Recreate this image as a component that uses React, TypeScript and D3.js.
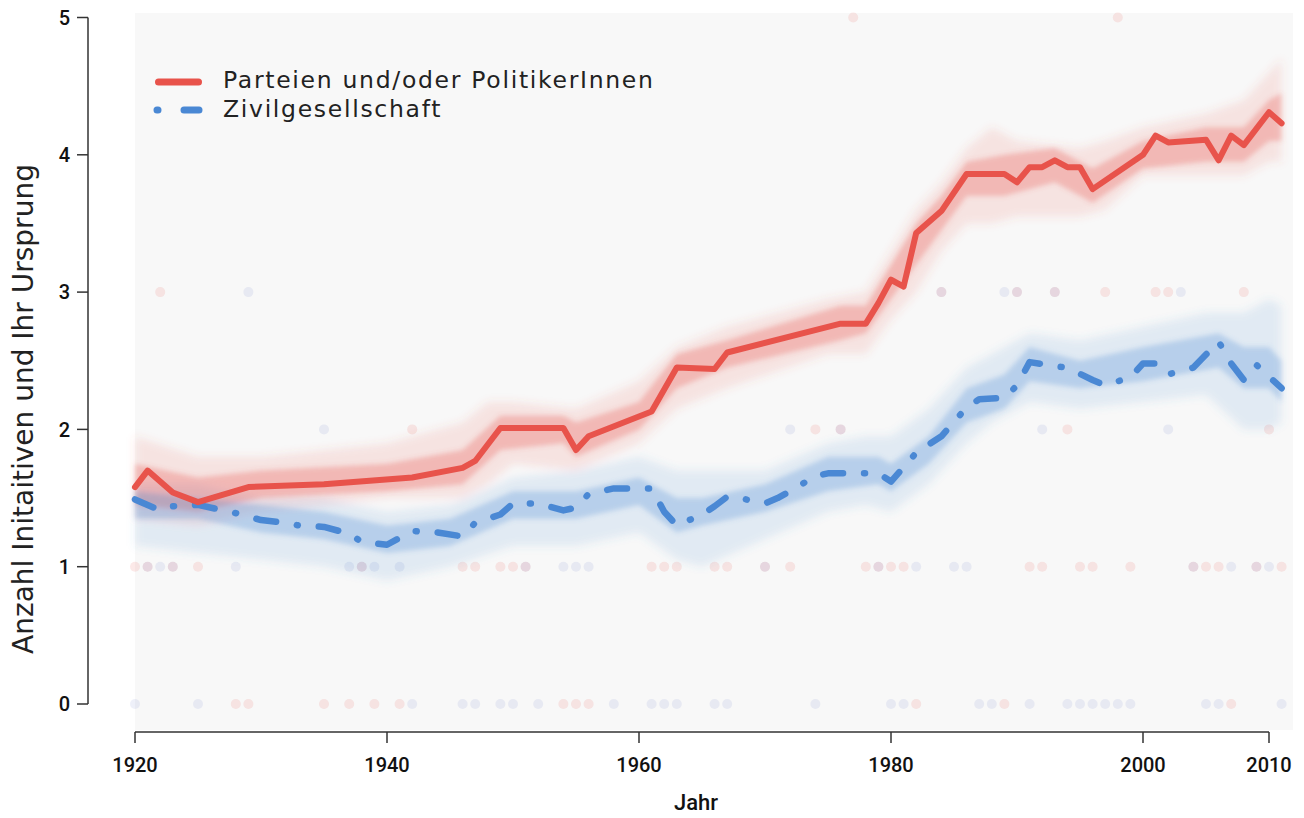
import React from 'react';
import * as d3 from 'd3';

const W = 1304;
const H = 818;

// Main estimate: Parteien und/oder PolitikerInnen
const redYears = [1920,1921,1923,1925,1929,1935,1942,1946,1947,1949,1954,1955,1956,1961,1963,1966,1967,1976,1978,1979,1980,1981,1982,1984,1986,1989,1990,1991,1992,1993,1994,1995,1996,2000,2001,2002,2005,2006,2007,2008,2010,2011];
const redValues = [1.58,1.70,1.54,1.47,1.58,1.60,1.65,1.72,1.77,2.01,2.01,1.85,1.95,2.13,2.45,2.44,2.56,2.77,2.77,2.92,3.09,3.04,3.43,3.59,3.86,3.86,3.80,3.91,3.91,3.96,3.91,3.91,3.75,4.00,4.14,4.09,4.11,3.96,4.14,4.07,4.31,4.23];

// Main estimate: Zivilgesellschaft
const blueYears = [1920,1921,1922,1923,1925,1928,1930,1932,1933,1935,1937,1938,1940,1941,1942,1944,1946,1947,1949,1950,1952,1954,1955,1956,1958,1961,1962,1963,1965,1966,1967,1968,1970,1971,1972,1974,1975,1979,1980,1982,1984,1986,1987,1989,1990,1991,1993,1994,1996,1997,1999,2000,2001,2002,2004,2006,2007,2008,2009,2011];
const blueValues = [1.49,1.45,1.41,1.44,1.45,1.39,1.34,1.32,1.30,1.29,1.24,1.18,1.16,1.21,1.26,1.25,1.22,1.32,1.38,1.46,1.46,1.41,1.43,1.53,1.57,1.57,1.40,1.30,1.38,1.44,1.51,1.50,1.46,1.50,1.55,1.66,1.68,1.68,1.62,1.83,1.95,2.16,2.22,2.23,2.32,2.49,2.46,2.45,2.36,2.32,2.38,2.48,2.48,2.40,2.45,2.64,2.48,2.36,2.47,2.30];

// Spread of the simulated lines (outer = faint, inner = dense)
const redOuterYears = [1920,1925,1930,1940,1946,1948,1950,1955,1960,1963,1967,1975,1978,1980,1982,1984,1986,1988,1990,1995,1997,2000,2005,2008,2010,2011];
const redOuterLo = [1.35,1.3,1.4,1.5,1.5,1.6,1.75,1.7,1.9,2.15,2.3,2.55,2.55,2.8,3.0,3.3,3.5,3.5,3.55,3.55,3.6,3.85,3.85,3.85,3.95,3.95];
const redOuterHi = [1.95,1.8,1.8,1.9,2.05,2.2,2.2,2.15,2.35,2.6,2.75,2.95,3.0,3.3,3.6,3.8,4.05,4.2,4.1,4.05,4.1,4.2,4.3,4.4,4.6,4.7];
const redInnerYears = [1920,1925,1930,1940,1946,1949,1954,1955,1960,1963,1967,1976,1978,1980,1982,1984,1986,1989,1993,1996,2000,2005,2008,2010,2011];
const redInnerLo = [1.45,1.4,1.5,1.55,1.6,1.85,1.9,1.8,2.0,2.3,2.45,2.65,2.7,2.95,3.2,3.45,3.7,3.7,3.8,3.65,3.9,3.95,3.95,4.1,4.1];
const redInnerHi = [1.75,1.65,1.7,1.75,1.85,2.1,2.1,2.05,2.2,2.55,2.65,2.9,2.9,3.2,3.5,3.7,3.95,4.0,4.05,3.9,4.1,4.2,4.2,4.4,4.45];

const blueOuterYears = [1920,1925,1930,1935,1940,1945,1950,1955,1960,1963,1965,1970,1975,1978,1980,1983,1986,1988,1991,1995,2000,2005,2008,2010,2011];
const blueOuterLo = [1.15,1.1,1.05,1.0,0.9,1.0,1.15,1.15,1.25,1.05,1.0,1.2,1.4,1.45,1.4,1.6,1.9,2.05,2.2,2.15,2.2,2.25,2.0,2.0,2.05];
const blueOuterHi = [1.6,1.6,1.5,1.5,1.4,1.45,1.65,1.7,1.8,1.7,1.7,1.7,1.9,1.95,1.95,2.15,2.45,2.55,2.7,2.65,2.75,2.85,2.85,2.95,2.9];
const blueInnerYears = [1920,1925,1930,1935,1940,1945,1950,1955,1960,1963,1965,1970,1975,1979,1980,1983,1986,1989,1991,1995,2000,2006,2008,2010,2011];
const blueInnerLo = [1.35,1.35,1.25,1.2,1.1,1.15,1.35,1.35,1.45,1.25,1.3,1.4,1.55,1.6,1.55,1.75,2.05,2.15,2.35,2.3,2.35,2.45,2.3,2.3,2.2];
const blueInnerHi = [1.55,1.5,1.45,1.4,1.3,1.35,1.55,1.55,1.65,1.5,1.5,1.6,1.8,1.8,1.75,1.95,2.3,2.4,2.6,2.5,2.6,2.7,2.6,2.6,2.5];

// Raw observations (year per dot) by value
const redDots0 = [1928,1929,1935,1937,1939,1941,1954,1955,1956,1982,1989,2007];
const blueDots0 = [1920,1925,1942,1946,1947,1949,1950,1952,1958,1961,1962,1963,1966,1967,1974,1980,1981,1987,1988,1991,1994,1995,1996,1997,1998,1999,2005,2006,2011];
const redDots1 = [1920,1921,1923,1925,1938,1946,1947,1949,1950,1951,1961,1962,1963,1966,1967,1970,1972,1978,1979,1980,1981,1991,1992,1995,1996,1999,2004,2005,2006,2009,2011];
const blueDots1 = [1921,1922,1923,1928,1937,1938,1939,1941,1951,1954,1955,1956,1970,1979,1982,1985,1986,2004,2007,2009,2010];
const redDots2 = [1942,1974,1976,1994,2010];
const blueDots2 = [1935,1972,1976,1992,2002];
const redDots3 = [1922,1984,1990,1993,1997,2001,2002,2008];
const blueDots3 = [1929,1984,1989,1990,1993,2003];
const redDots5 = [1977,1998];

const xTicks = [1920, 1940, 1960, 1980, 2000, 2010];
const yTicks = [0, 1, 2, 3, 4, 5];
const legendLabels = ['Parteien und/oder PolitikerInnen', 'Zivilgesellschaft'];

const RED = '#e8534b';
const BLUE = '#4a88d4';
const DOT_BLUE = '#5a6fc0';

export default function App() {
  const x = d3.scaleLinear().domain([1920, 2011]).range([135, 1281.6]);
  const y = d3.scaleLinear().domain([0, 5]).range([704, 17.5]);

  const mkLine = (years: number[], vals: number[]) =>
    d3.line<number>().x((d) => x(d)).y((_, i) => y(vals[i]))(years) || '';
  const mkArea = (years: number[], lo: number[], hi: number[]) =>
    d3.area<number>().x((d) => x(d)).y0((_, i) => y(lo[i])).y1((_, i) => y(hi[i]))(years) || '';

  const dotRows: { years: number[]; v: number; color: string; op: number }[] = [
    { years: redDots0, v: 0, color: RED, op: 0.13 },
    { years: blueDots0, v: 0, color: DOT_BLUE, op: 0.1 },
    { years: redDots1, v: 1, color: RED, op: 0.13 },
    { years: blueDots1, v: 1, color: DOT_BLUE, op: 0.1 },
    { years: redDots2, v: 2, color: RED, op: 0.13 },
    { years: blueDots2, v: 2, color: DOT_BLUE, op: 0.1 },
    { years: redDots3, v: 3, color: RED, op: 0.13 },
    { years: blueDots3, v: 3, color: DOT_BLUE, op: 0.1 },
    { years: redDots5, v: 5, color: RED, op: 0.13 },
  ];

  const axisColor = '#333';
  const tickFont = { fontFamily: 'Roboto, sans-serif', fontWeight: 500, fontSize: 20, fill: '#111' } as const;
  const legendFont = { fontFamily: '"DejaVu Sans", sans-serif', fontSize: 23.5, letterSpacing: 1.7, fill: '#222' } as const;

  return (
    <svg width={W} height={H} style={{ position: 'absolute', left: 0, top: 0, display: 'block' }}>
      <defs>
        <filter id="softOuter" x="-5%" y="-30%" width="110%" height="160%">
          <feGaussianBlur stdDeviation="4" />
        </filter>
        <filter id="softInner" x="-5%" y="-30%" width="110%" height="160%">
          <feGaussianBlur stdDeviation="2.5" />
        </filter>
      </defs>
      <rect x={0} y={0} width={W} height={H} fill="#ffffff" />
      <rect x={135} y={13} width={1158} height={717} fill="#f8f8f8" />

      {/* raw observations */}
      <g>
        {dotRows.map((row, ri) =>
          row.years.map((yr, i) => (
            <circle key={`${ri}-${i}`} cx={x(yr)} cy={y(row.v)} r={5} fill={row.color} fillOpacity={row.op} />
          ))
        )}
      </g>

      {/* spread bands */}
      <g filter="url(#softOuter)">
        <path d={mkArea(redOuterYears, redOuterLo, redOuterHi)} fill={RED} fillOpacity={0.13} />
        <path d={mkArea(blueOuterYears, blueOuterLo, blueOuterHi)} fill={BLUE} fillOpacity={0.13} />
      </g>
      <g filter="url(#softInner)">
        <path d={mkArea(redInnerYears, redInnerLo, redInnerHi)} fill={RED} fillOpacity={0.3} />
        <path d={mkArea(blueInnerYears, blueInnerLo, blueInnerHi)} fill={BLUE} fillOpacity={0.28} />
      </g>

      {/* main lines */}
      <path d={mkLine(blueYears, blueValues)} fill="none" stroke={BLUE} strokeWidth={6.5}
        strokeLinecap="round" strokeLinejoin="round" strokeDasharray="20 21 1 21" />
      <path d={mkLine(redYears, redValues)} fill="none" stroke={RED} strokeWidth={6}
        strokeLinecap="round" strokeLinejoin="round" />

      {/* y axis */}
      <line x1={88} x2={88} y1={y(0)} y2={y(5)} stroke={axisColor} strokeWidth={1.5} />
      {yTicks.map((t) => (
        <g key={t}>
          <line x1={77} x2={88} y1={y(t)} y2={y(t)} stroke={axisColor} strokeWidth={1.5} />
          <text x={70} y={y(t)} dy="0.36em" textAnchor="end" {...tickFont}>{t}</text>
        </g>
      ))}
      <text transform={`translate(33,409) rotate(-90)`} textAnchor="middle"
        style={{ fontFamily: '"DejaVu Sans", sans-serif', fontSize: 28, fill: '#222' }}>
        Anzahl Initaitiven und Ihr Ursprung
      </text>

      {/* x axis */}
      <line x1={x(1920)} x2={x(2010)} y1={732} y2={732} stroke={axisColor} strokeWidth={1.5} />
      {xTicks.map((t) => (
        <g key={t}>
          <line x1={x(t)} x2={x(t)} y1={732} y2={743} stroke={axisColor} strokeWidth={1.5} />
          <text x={x(t)} y={772} textAnchor="middle" {...tickFont}>{t}</text>
        </g>
      ))}
      <text x={696} y={810} textAnchor="middle"
        style={{ fontFamily: 'Roboto, sans-serif', fontWeight: 500, fontSize: 22, fill: '#111' }}>
        Jahr
      </text>

      {/* legend */}
      <line x1={158.5} x2={198.5} y1={82} y2={82} stroke={RED} strokeWidth={7} strokeLinecap="round" />
      <line x1={157} x2={199} y1={110} y2={110} stroke={BLUE} strokeWidth={7} strokeLinecap="round"
        strokeDasharray="1 26 20 20" />
      <text x={223} y={88} style={legendFont}>{legendLabels[0]}</text>
      <text x={223} y={117} style={legendFont}>{legendLabels[1]}</text>
    </svg>
  );
}
